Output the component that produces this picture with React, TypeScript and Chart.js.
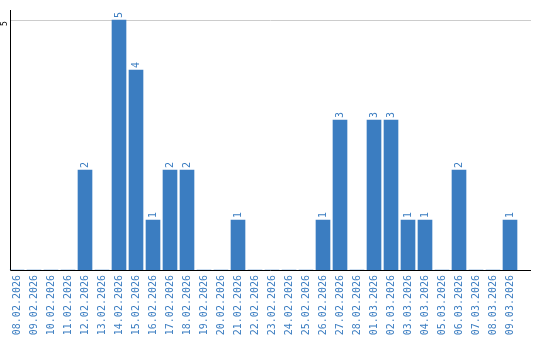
import React, { useEffect, useRef } from "react";
import { Chart, registerables } from "chart.js";

Chart.register(...registerables);

const dates = [
  "08.02.2026", "09.02.2026", "10.02.2026", "11.02.2026", "12.02.2026",
  "13.02.2026", "14.02.2026", "15.02.2026", "16.02.2026", "17.02.2026",
  "18.02.2026", "19.02.2026", "20.02.2026", "21.02.2026", "22.02.2026",
  "23.02.2026", "24.02.2026", "25.02.2026", "26.02.2026", "27.02.2026",
  "28.02.2026", "01.03.2026", "02.03.2026", "03.03.2026", "04.03.2026",
  "05.03.2026", "06.03.2026", "07.03.2026", "08.03.2026", "09.03.2026",
];
const counts = [
  0, 0, 0, 0, 2,
  0, 5, 4, 1, 2,
  2, 0, 0, 1, 0,
  0, 0, 0, 1, 3,
  0, 3, 3, 1, 1,
  0, 2, 0, 0, 1,
];
const yTicks = [5];

const BLUE = "#3b7dc1";
const FONT = "'DejaVu Sans Mono', monospace";

const overlay = {
  id: "overlay",
  beforeDatasetsDraw(chart: any) {
    const ctx = chart.ctx;
    const ca = chart.chartArea;
    const ys = chart.scales.y;
    const left = ca.left + 1.5;
    const right = ca.right + 12.5;
    ctx.save();
    // gridlines
    ctx.strokeStyle = "#cccccc";
    ctx.lineWidth = 1;
    yTicks.forEach((t) => {
      const y = Math.round(ys.getPixelForValue(t)) + 0.5;
      ctx.beginPath();
      ctx.moveTo(left, y);
      ctx.lineTo(right, y);
      ctx.stroke();
    });
    ctx.restore();
  },
  afterDatasetsDraw(chart: any) {
    const ctx = chart.ctx;
    const ca = chart.chartArea;
    const ys = chart.scales.y;
    const meta = chart.getDatasetMeta(0);
    const left = Math.round(ca.left + 1.5) + 0.5;
    const right = ca.right + 12.5;
    const bottom = Math.round(ys.getPixelForValue(0)) + 0.5;
    ctx.save();
    // axes
    ctx.strokeStyle = "#000";
    ctx.lineWidth = 1;
    ctx.beginPath();
    ctx.moveTo(left, ca.top);
    ctx.lineTo(left, bottom);
    ctx.lineTo(right, bottom);
    ctx.stroke();
    // value labels
    ctx.fillStyle = BLUE;
    ctx.font = "10px " + FONT;
    ctx.textAlign = "left";
    ctx.textBaseline = "middle";
    meta.data.forEach((bar: any, i: number) => {
      const v = counts[i];
      if (!v) return;
      ctx.save();
      ctx.translate(bar.x, bar.y - 2);
      ctx.rotate(-Math.PI / 2);
      ctx.fillText(String(v), 0, 0);
      ctx.restore();
    });
    // y tick labels, rotated
    ctx.fillStyle = "#000";
    ctx.font = "8px " + FONT;
    ctx.textAlign = "center";
    ctx.textBaseline = "middle";
    yTicks.forEach((t) => {
      ctx.save();
      ctx.translate(5, ys.getPixelForValue(t) + 3.5);
      ctx.rotate(-Math.PI / 2);
      ctx.fillText(String(t), 0, 0);
      ctx.restore();
    });
    ctx.restore();
  },
};

export default function App() {
  const ref = useRef<HTMLCanvasElement | null>(null);
  useEffect(() => {
    const chart = new Chart(ref.current as HTMLCanvasElement, {
      type: "bar",
      data: {
        labels: dates,
        datasets: [
          {
            data: counts,
            backgroundColor: BLUE,
            borderWidth: 0,
            barThickness: 14,
            categoryPercentage: 1,
          },
        ],
      },
      options: {
        animation: false,
        responsive: false,
        maintainAspectRatio: false,
        layout: { padding: { left: 8.5, top: 10, right: 21.5, bottom: 0 } },
        plugins: { legend: { display: false }, tooltip: { enabled: false } },
        scales: {
          x: {
            grid: { display: false, drawTicks: false },
            border: { display: false },
            ticks: {
              color: BLUE,
              font: { family: FONT, size: 10 },
              minRotation: 90,
              maxRotation: 90,
              autoSkip: false,
              padding: 5,
            },
            afterFit(scale: any) {
              scale.height = 70;
            },
          },
          y: {
            min: 0,
            max: 5.2,
            afterBuildTicks(scale: any) {
              scale.ticks = yTicks.map((v) => ({ value: v }));
            },
            grid: { display: false, drawTicks: false },
            border: { display: false },
            ticks: { display: false },
            afterFit(scale: any) {
              scale.width = 0;
            },
          },
        },
      },
      plugins: [overlay],
    });
    return () => chart.destroy();
  }, []);
  return (
    <div style={{ position: "fixed", left: 0, top: 0, width: 540, height: 340, background: "#fff" }}>
      <canvas ref={ref} width={540} height={340} style={{ width: 540, height: 340 }} />
    </div>
  );
}
